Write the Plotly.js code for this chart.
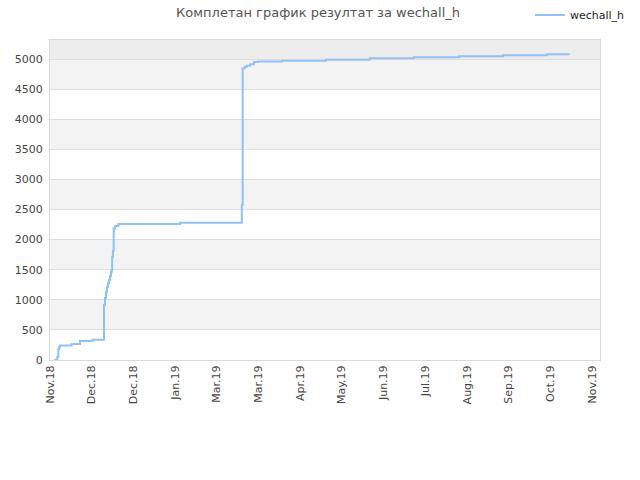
<!DOCTYPE html>
<html>
<head>
<meta charset="utf-8">
<script src="https://cdn.plot.ly/plotly-3.0.1.min.js"></script>
<style>body{margin:0;padding:0;background:#fff}#chart{width:640px;height:480px}</style>
</head>
<body>
<div id="chart"></div>
<script>
// x positions are in "tick units": 0 = first tick (Nov.18), 13 = last tick (Nov.19)
var tickLabels = ['Nov.18', 'Dec.18', 'Dec.18', 'Jan.19', 'Mar.19', 'Mar.19', 'Apr.19',
                  'May.19', 'Jun.19', 'Jul.19', 'Aug.19', 'Sep.19', 'Oct.19', 'Nov.19'];

var xPos = [0.10, 0.175, 0.20, 0.22, 0.24, 0.52, 0.72, 1.02,
            1.295, 1.319, 1.343, 1.367, 1.391, 1.415, 1.439, 1.463, 1.48,
            1.49, 1.51, 1.528, 1.56, 1.64, 3.12,
            4.60, 4.62, 4.67, 4.72, 4.80, 4.89, 4.99,
            5.57, 6.62, 7.67, 8.73, 9.81, 10.86, 11.92, 12.46];
var scores = [0, 50, 180, 215, 240, 265, 315, 337,
              915, 1030, 1130, 1215, 1280, 1330, 1395, 1460, 1495,
              1715, 1810, 2190, 2225, 2260, 2280,
              2575, 4845, 4870, 4890, 4915, 4950, 4958,
              4972, 4988, 5012, 5028, 5045, 5061, 5078, 5078];

var yMax = 5316;
var bandStep = 500;

var shapes = [];
for (var b = bandStep; b < 5000; b += 2 * bandStep) {
  shapes.push({type: 'rect', xref: 'paper', yref: 'y', x0: 0, x1: 1, y0: b, y1: b + bandStep,
               fillcolor: '#f3f3f3', line: {width: 0}, layer: 'below'});
}
shapes.push({type: 'rect', xref: 'paper', yref: 'y', x0: 0, x1: 1, y0: 5000, y1: yMax,
             fillcolor: '#ededed', line: {width: 0}, layer: 'below'});

var trace = {
  x: xPos,
  y: scores,
  type: 'scatter',
  mode: 'lines',
  name: 'wechall_h',
  line: {color: '#90c2f3', width: 2, shape: 'hv'}
};

var layout = {
  width: 640,
  height: 480,
  margin: {l: 50, r: 40, t: 40, b: 120, autoexpand: false},
  paper_bgcolor: '#ffffff',
  plot_bgcolor: '#ffffff',
  font: {family: 'DejaVu Sans, sans-serif', size: 11, color: '#444'},
  title: {text: 'Комплетан график резултат за wechall_h', x: 0.497, xanchor: 'center',
          y: 0.975, yanchor: 'middle', font: {size: 13, color: '#555'}},
  showlegend: true,
  legend: {xref: 'container', yref: 'container', x: 0.828, y: 0.969, xanchor: 'left', yanchor: 'middle',
           bgcolor: 'rgba(0,0,0,0)', font: {size: 11, color: '#222'}, itemwidth: 30},
  xaxis: {
    range: [0, 13.19],
    tickmode: 'array',
    tickvals: tickLabels.map(function (t, i) { return i; }),
    ticktext: tickLabels,
    tickangle: -90,
    showgrid: false,
    zeroline: false,
    showline: true,
    linecolor: '#d9d9d9',
    mirror: true,
    ticks: '',
    fixedrange: true
  },
  yaxis: {
    range: [0, yMax],
    tickmode: 'linear',
    tick0: 0,
    dtick: 500,
    showgrid: true,
    gridcolor: '#dedede',
    zeroline: false,
    showline: true,
    linecolor: '#d9d9d9',
    mirror: true,
    ticks: '',
    ticklabelstandoff: 4,
    fixedrange: true
  },
  shapes: shapes
};

Plotly.newPlot('chart', [trace], layout, {displayModeBar: false, staticPlot: true});
</script>
</body>
</html>
